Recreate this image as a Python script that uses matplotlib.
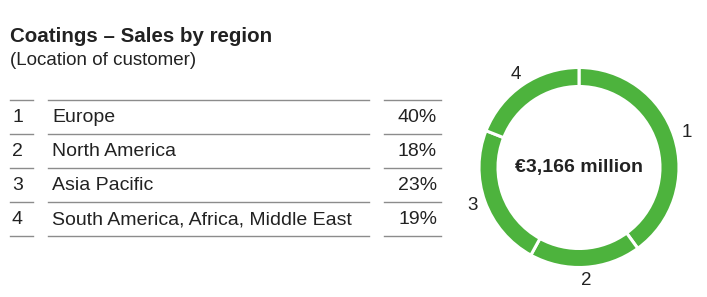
import matplotlib.pyplot as plt
from matplotlib.lines import Line2D

plt.rcParams['font.family'] = ['Liberation Sans', 'DejaVu Sans']

numbers = ['1', '2', '3', '4']
regions = ['Europe', 'North America', 'Asia Pacific', 'South America, Africa, Middle East']
shares = [40, 18, 23, 19]
total_label = '€3,166 million'

green = '#4db33d'
text_col = '#222222'
line_col = '#8c8c8c'

fig = plt.figure(figsize=(7.07, 2.97), dpi=100)

# table part, axes in pixel units
ax = fig.add_axes([0, 0, 1, 1])
ax.set_xlim(0, 707)
ax.set_ylim(297, 0)
ax.axis('off')

ax.text(10, 42, 'Coatings – Sales by region', fontsize=14.8, fontweight='bold',
        color=text_col, va='baseline')
ax.text(10, 65, '(Location of customer)', fontsize=13.5, color=text_col, va='baseline')

row_top = 100
row_h = 34
for i in range(len(regions) + 1):
    y = row_top + i * row_h
    for x0, x1 in [(10, 33), (48, 369), (384, 441)]:
        ax.add_line(Line2D([x0, x1], [y, y], color=line_col, lw=1))

for i, (n, r, s) in enumerate(zip(numbers, regions, shares)):
    y = row_top + i * row_h + row_h / 2 + 1
    ax.text(12, y, n, fontsize=14, color=text_col, va='center')
    ax.text(52, y, r, fontsize=14, color=text_col, va='center')
    ax.text(437, y, f'{s}%', fontsize=14, color=text_col, va='center', ha='right')

# donut
pax = fig.add_axes([479 / 707, (297 - 267.5) / 297, 200 / 707, 200 / 297])
wedges, texts = pax.pie(shares, labels=numbers, startangle=90, counterclock=False,
                        colors=[green] * 4, labeldistance=1.13,
                        wedgeprops=dict(width=0.19, edgecolor='white', linewidth=2.2),
                        textprops=dict(fontsize=13.5, color=text_col))
for t in texts:
    t.set_ha('center')
    t.set_va('center')
pax.set_xlim(-1, 1)
pax.set_ylim(-1, 1)
pax.set_aspect('auto')
pax.text(0, 0, total_label, ha='center', va='center', fontsize=14,
         color=text_col, fontweight='bold')

fig.savefig('out.png', dpi=100)
